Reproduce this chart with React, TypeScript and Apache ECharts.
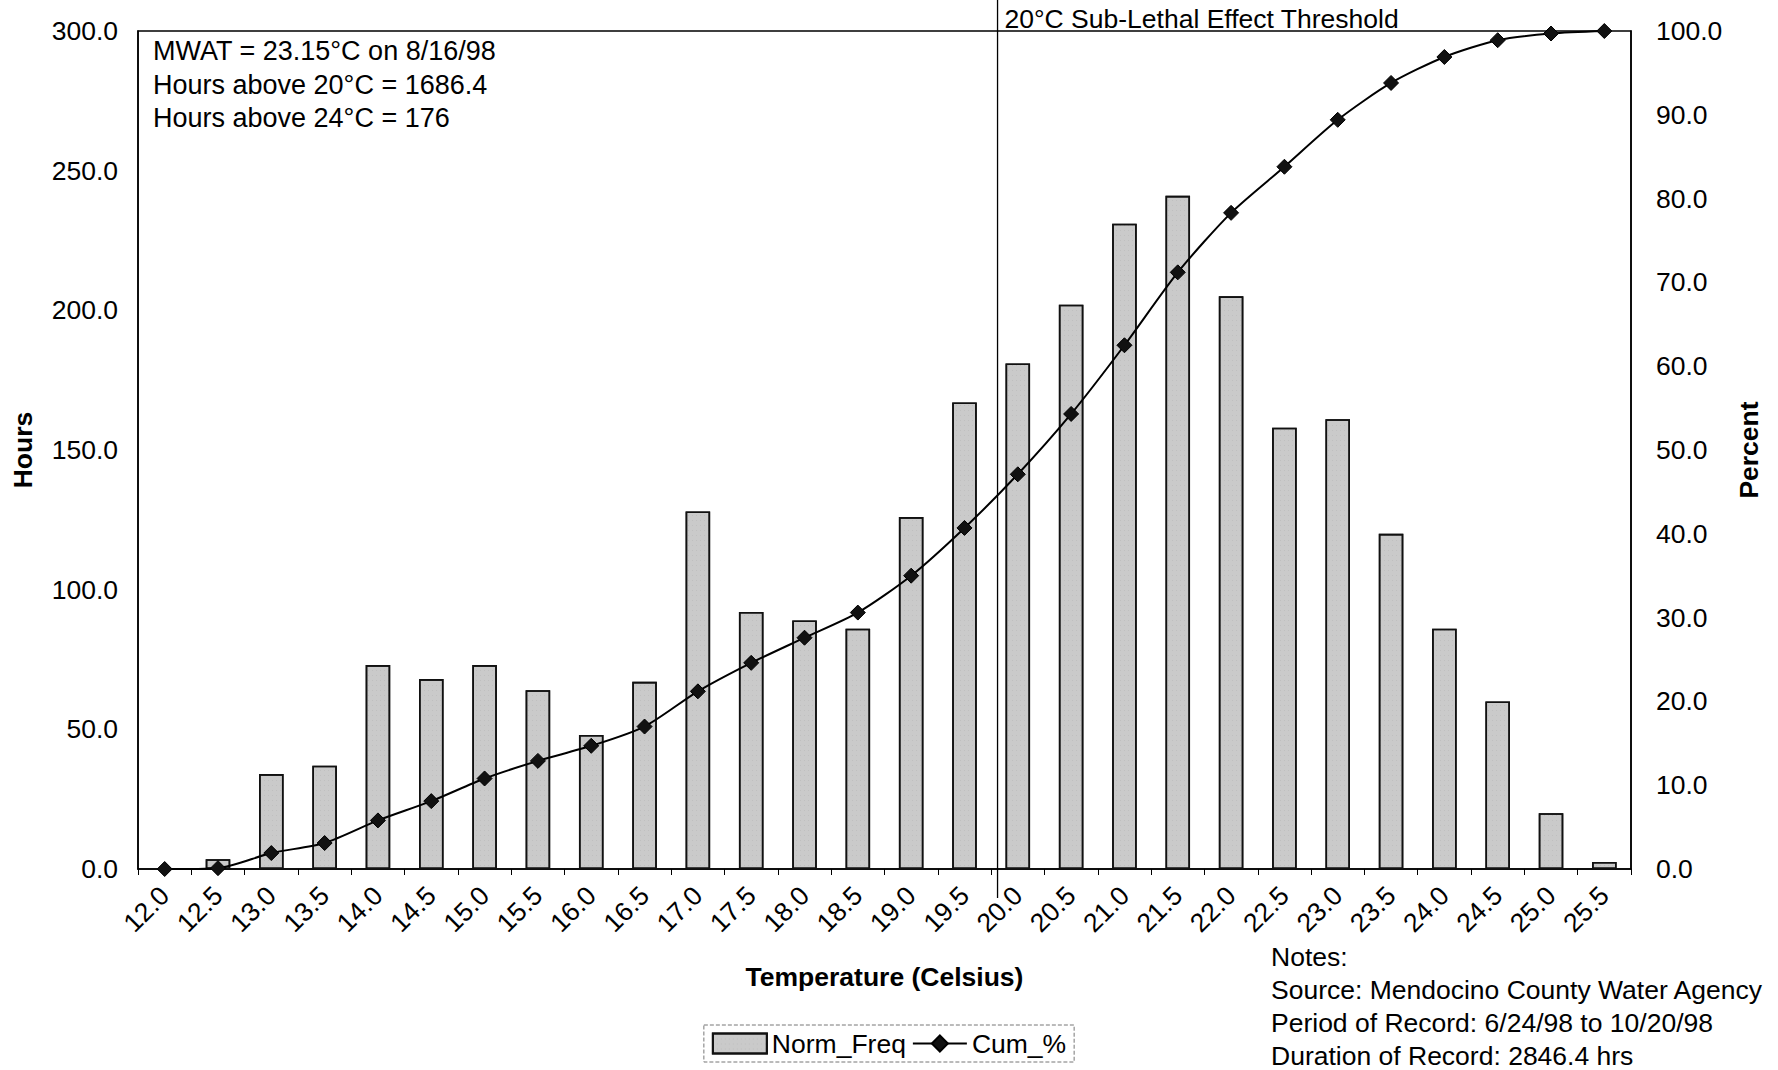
import React, { useEffect, useRef } from "react";
import * as echarts from "echarts";

const categories = [
  "12.0", "12.5", "13.0", "13.5", "14.0", "14.5", "15.0", "15.5", "16.0", "16.5",
  "17.0", "17.5", "18.0", "18.5", "19.0", "19.5", "20.0", "20.5", "21.0", "21.5",
  "22.0", "22.5", "23.0", "23.5", "24.0", "24.5", "25.0", "25.5",
];
const normFreq = [
  0, 3.5, 34, 37, 73, 68, 73, 64, 48, 67,
  128, 92, 89, 86, 126, 167, 181, 202, 231, 241,
  205, 158, 161, 120, 86, 60, 20, 2.5,
];
const cumPct = [
  0.0, 0.1, 1.9, 3.1, 5.8, 8.1, 10.8, 12.9, 14.7, 17.0,
  21.2, 24.6, 27.6, 30.6, 35.0, 40.7, 47.1, 54.3, 62.5, 71.2,
  78.3, 83.8, 89.4, 93.8, 96.9, 98.9, 99.7, 100.0,
];
const statLines = [
  "MWAT = 23.15°C on 8/16/98",
  "Hours above 20°C = 1686.4",
  "Hours above 24°C = 176",
];
const noteLines = [
  "Notes:",
  "Source: Mendocino County Water Agency",
  "Period of Record: 6/24/98 to 10/20/98",
  "Duration of Record: 2846.4 hrs",
];
const thresholdLabel = "20°C Sub-Lethal Effect Threshold";
const thresholdBetween = ["19.5", "20.0"];

const FONT = "'Liberation Sans', Arial, sans-serif";
const FS = 26.5;

export default function App() {
  const ref = useRef<HTMLDivElement>(null);
  useEffect(() => {
    if (!ref.current) return;
    const chart = echarts.init(ref.current, undefined, { renderer: "svg" });
    const option: any = {
      animation: false,
      backgroundColor: "#fff",
      textStyle: { fontFamily: FONT, color: "#000" },
      grid: {
        left: 138,
        right: 147,
        top: 31,
        bottom: 201,
        show: true,
        borderColor: "#000",
        borderWidth: 1.5,
        backgroundColor: "transparent",
      },
      legend: {
        left: "center",
        top: 1025,
        padding: [5, 8],
        borderColor: "#777",
        borderWidth: 1,
        borderType: "dashed",
        itemWidth: 54,
        itemHeight: 20,
        itemGap: 6,
        textStyle: { fontFamily: FONT, fontSize: FS, color: "#000" },
        data: [
          { name: "Norm_Freq", icon: "rect" },
          { name: "Cum_%" },
        ],
      },
      xAxis: [
        {
          type: "category",
          data: categories,
          name: "Temperature (Celsius)",
          nameLocation: "middle",
          nameGap: 94,
          nameTextStyle: { fontFamily: FONT, fontSize: FS, fontWeight: "bold", color: "#000" },
          axisLine: { lineStyle: { color: "#000", width: 1.5 } },
          axisTick: { show: true, length: 6, lineStyle: { color: "#000" } },
          axisLabel: {
            rotate: 45,
            margin: 22,
            fontFamily: FONT,
            fontSize: FS,
            color: "#000",
            interval: 0,
          },
        },
      ],
      yAxis: [
        {
          type: "value",
          min: 0,
          max: 300,
          interval: 50,
          name: "Hours",
          nameLocation: "middle",
          nameRotate: 90,
          nameGap: 102,
          nameTextStyle: { fontFamily: FONT, fontSize: FS, fontWeight: "bold", color: "#000" },
          axisLine: { show: true, lineStyle: { color: "#000", width: 1.5 } },
          axisTick: { show: false },
          splitLine: { show: false },
          axisLabel: {
            margin: 20,
            fontFamily: FONT,
            fontSize: FS,
            color: "#000",
            formatter: (v: number) => v.toFixed(1),
          },
        },
        {
          type: "value",
          min: 0,
          max: 100,
          interval: 10,
          position: "right",
          name: "Percent",
          nameLocation: "middle",
          nameRotate: 90,
          nameGap: 104,
          nameTextStyle: { fontFamily: FONT, fontSize: FS, fontWeight: "bold", color: "#000" },
          axisLine: { show: true, lineStyle: { color: "#000", width: 1.5 } },
          axisTick: { show: false },
          splitLine: { show: false },
          axisLabel: {
            margin: 25,
            fontFamily: FONT,
            fontSize: FS,
            color: "#000",
            formatter: (v: number) => v.toFixed(1),
          },
        },
      ],
      series: [
        {
          name: "Norm_Freq",
          type: "bar",
          yAxisIndex: 0,
          data: normFreq,
          barWidth: "46%",
          itemStyle: {
            color: "#cacaca",
            borderColor: "#111",
            borderWidth: 1.6,
            decal: {
              symbol: "rect",
              symbolSize: 0.6,
              color: "rgba(0,0,0,0.18)",
              dashArrayX: [1, 3],
              dashArrayY: [1, 4],
              rotation: 0,
            },
          },
        },
        {
          name: "Cum_%",
          type: "line",
          yAxisIndex: 1,
          data: cumPct,
          smooth: 0.25,
          symbol: "diamond",
          symbolSize: 15,
          lineStyle: { color: "#000", width: 2 },
          itemStyle: { color: "#111", borderColor: "#000", borderWidth: 1 },
          z: 5,
        },
      ],
    };
    chart.setOption(option);

    const c0 = chart.convertToPixel({ xAxisIndex: 0 }, thresholdBetween[0]) as number;
    const c1 = chart.convertToPixel({ xAxisIndex: 0 }, thresholdBetween[1]) as number;
    const tx = c0 + (c1 - c0) * 0.62;

    const elements: any[] = [
      {
        type: "line",
        shape: { x1: tx, y1: 0, x2: tx, y2: 898 },
        style: { stroke: "#000", lineWidth: 1.3 },
        z: 10,
      },
      {
        type: "text",
        x: tx + 7,
        y: 19,
        style: {
          text: thresholdLabel,
          fontFamily: FONT,
          fontSize: FS,
          fill: "#000",
          verticalAlign: "middle",
        },
        z: 10,
      },
    ];
    statLines.forEach((t, i) => {
      elements.push({
        type: "text",
        x: 153,
        y: 51 + i * 33.5,
        style: { text: t, fontFamily: FONT, fontSize: 27, fill: "#000", verticalAlign: "middle" },
        z: 10,
      });
    });
    noteLines.forEach((t, i) => {
      elements.push({
        type: "text",
        x: 1271,
        y: 957 + i * 33,
        style: { text: t, fontFamily: FONT, fontSize: FS, fill: "#000", verticalAlign: "middle" },
        z: 10,
      });
    });
    chart.setOption({ graphic: { elements } });

    return () => chart.dispose();
  }, []);
  return (
    <div
      ref={ref}
      style={{ position: "fixed", left: 0, top: 0, width: 1778, height: 1070, background: "#fff" }}
    />
  );
}
